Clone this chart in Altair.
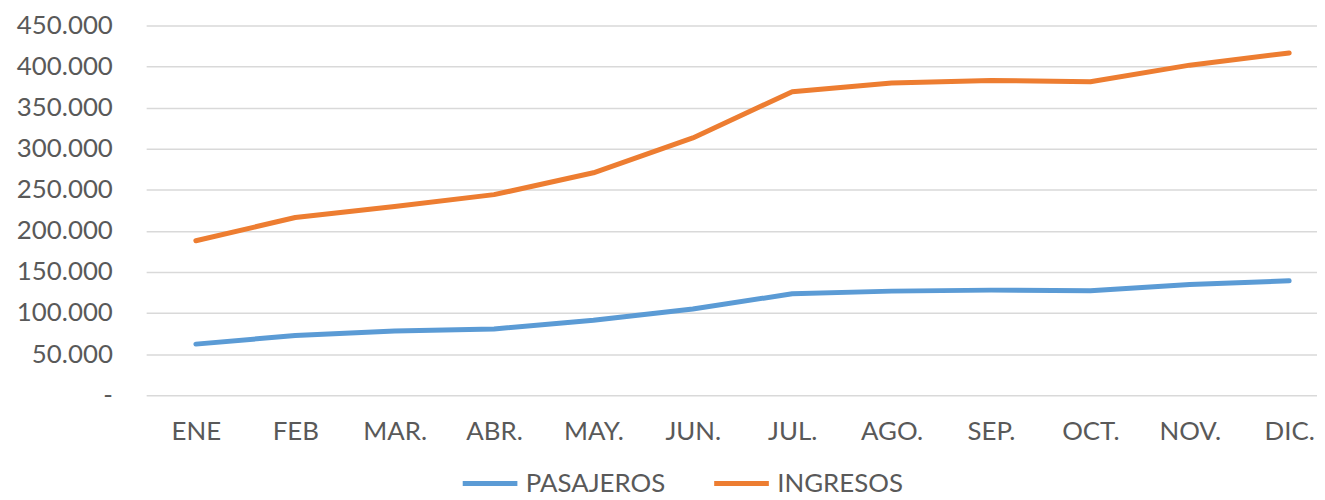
import altair as alt
import pandas as pd

months = ["ENE", "FEB", "MAR.", "ABR.", "MAY.", "JUN.", "JUL.", "AGO.", "SEP.", "OCT.", "NOV.", "DIC."]
pasajeros = [62100, 72600, 78000, 80600, 91100, 104800, 123400, 126600, 127800, 127000, 134700, 139100]
ingresos = [187900, 216200, 229500, 244000, 270600, 313000, 369300, 380000, 383000, 381400, 401600, 416500]
series_names = ["PASAJEROS", "INGRESOS"]
series_colors = ["#5B9BD5", "#ED7D31"]

rows = []
for name, vals in zip(series_names, [pasajeros, ingresos]):
    for i, (m, v) in enumerate(zip(months, vals)):
        rows.append({"mes": m, "serie": name, "valor": v, "orden": i})
df = pd.DataFrame(rows)

FONT = "Lato"
TEXT = "#595959"
month_array = "[" + ",".join("'" + m + "'" for m in months) + "]"

chart = alt.Chart(df).mark_line(strokeWidth=5, strokeCap="round", strokeJoin="round").encode(
    x=alt.X("orden:Q",
            scale=alt.Scale(domain=[-0.5, 11.28], nice=False, zero=False),
            axis=alt.Axis(title=None, values=list(range(len(months))), labelAngle=0,
                          domain=False, ticks=False, grid=False,
                          labelExpr=month_array + "[datum.value]",
                          labelFont=FONT, labelFontSize=26, labelColor=TEXT,
                          labelPadding=24, labelBaseline="top", labelFlush=False, labelOverlap=False)),
    y=alt.Y("valor:Q", scale=alt.Scale(domain=[0, 450000], nice=False),
            axis=alt.Axis(title=None, values=list(range(0, 450001, 50000)), domain=False, ticks=False,
                          grid=True, gridColor="#D9D9D9", gridWidth=1.5,
                          labelExpr="datum.value == 0 ? '-\u00a0\u00a0\u00a0' : replace(format(datum.value, ','), ',', '.')",
                          labelFont=FONT, labelFontSize=26, labelColor=TEXT, labelPadding=34)),
    color=alt.Color("serie:N", sort=series_names,
                    scale=alt.Scale(domain=series_names, range=series_colors),
                    legend=alt.Legend(title=None, orient="none", direction="horizontal",
                                      legendX=316, legendY=431, symbolType="stroke",
                                      symbolSize=3025, symbolStrokeWidth=5,
                                      labelFont=FONT, labelFontSize=26, labelColor=TEXT,
                                      labelOffset=6, columnPadding=38, padding=0)),
    order="orden:Q",
).properties(
    width=1178, height=372,
    autosize=alt.AutoSizeParams(type="none"),
    padding={"left": 139, "top": 16, "right": 0, "bottom": 104},
).configure_view(stroke=None)

chart.save("out.html", embed_options={"renderer": "svg", "actions": False})
